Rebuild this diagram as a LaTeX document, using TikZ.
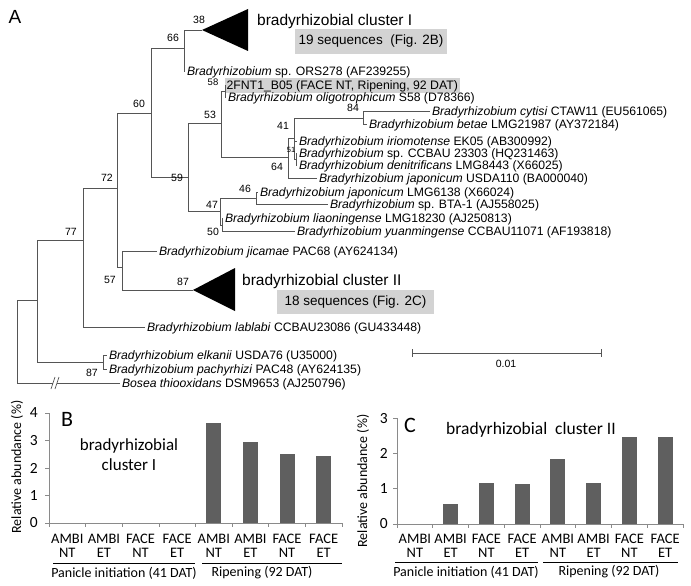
\documentclass[tikz,border=0pt]{standalone}
\usepackage{fontspec}
\setmainfont{Liberation Sans}
\newfontfamily\chartfont{Carlito}
\definecolor{treeline}{HTML}{555555}
\definecolor{boxgray}{HTML}{D3D3D3}
\definecolor{barcol}{HTML}{5F5F5F}
\definecolor{axiscol}{HTML}{8A8A8A}
\begin{document}
\begin{tikzpicture}[x=1pt,y=-1pt,
  br/.style={draw=treeline,line width=0.75pt},
  tx/.style={anchor=west,inner sep=0pt,outer xsep=2pt,outer ysep=0pt,font=\fontsize{12.2}{13}\selectfont,text height=8.8pt,text depth=0pt},
  bs/.style={inner sep=0pt,font=\fontsize{10.5}{10.5}\selectfont},
  cl/.style={anchor=west,inner sep=0pt,font=\fontsize{15.5}{16}\selectfont,text height=11pt,text depth=0pt},
  gbox/.style={fill=boxgray,inner sep=0pt,font=\fontsize{13.5}{14}\selectfont},
  ax/.style={draw=axiscol,line width=0.7pt},
  bar/.style={fill=barcol},
  cf/.style={font=\chartfont\fontsize{14.5}{14}\selectfont,inner sep=0pt,align=center},
  gl/.style={font=\chartfont\fontsize{14}{14}\selectfont,inner sep=0pt},
  tickl/.style={font=\chartfont\fontsize{15.5}{16}\selectfont,inner sep=0pt,anchor=east},
  ylab/.style={font=\chartfont\fontsize{14}{14}\selectfont,inner sep=0pt,rotate=90},
  grp/.style={draw=black,line width=0.8pt},
]
\useasboundingbox (0,0) rectangle (691,586);

% ---------------- panel A : tree ----------------
\node[font=\fontsize{19}{19}\selectfont,inner sep=0pt] (lA) at (15,17) {A};

% internal nodes
\coordinate (r) at (17,340);
\coordinate (n77) at (37,300);
\coordinate (n72) at (83,240);
\coordinate (n60) at (117,188);
\coordinate (nA) at (151,113);
\coordinate (n66) at (184,48);
\coordinate (n59) at (188,177);
\coordinate (n53) at (221,123);
\coordinate (n58) at (225,91);
\coordinate (n64) at (288,157);
\coordinate (n41) at (294,138);
\coordinate (n84) at (363,118);
\coordinate (n51) at (296,159);
\coordinate (n47) at (220,211);
\coordinate (n46) at (256,198);
\coordinate (n50) at (222,225);
\coordinate (n57) at (122,267);
\coordinate (n87) at (103,362);
\coordinate (c1) at (202,30);
\coordinate (c2) at (193,290);

% collapsed clusters
\fill[black] (c1) -- (248,9) -- (248,51) -- cycle;
\fill[black] (c2) -- (235,268) -- (235,311) -- cycle;
\node[cl] (cl1) at (257,20) {bradyrhizobial cluster I};
\node[gbox,minimum width=152pt,minimum height=25pt] (bx1) at (371,41.5) {19 sequences\ \ (Fig. 2B)};
\node[cl] (cl2) at (242,280) {bradyrhizobial cluster II};
\node[gbox,minimum width=157pt,minimum height=24pt] (bx2) at (355.5,302) {18 sequences (Fig. 2C)};

% leaves
\node[tx] (t-ors) at (185,71) {\textit{Bradyrhizobium} sp. ORS278 (AF239255)};
\node[tx,font=\fontsize{12.3}{13}\selectfont,fill=boxgray,inner xsep=1.5pt,inner ysep=3.5pt,outer xsep=0pt] (t-2f) at (225,85.5) {2FNT1\_B05 (FACE NT, Ripening, 92 DAT)};
\node[tx] (t-oli) at (226,97) {\textit{Bradyrhizobium oligotrophicum} S58 (D78366)};
\node[tx] (t-cyt) at (430,111) {\textit{Bradyrhizobium cytisi} CTAW11 (EU561065)};
\node[tx] (t-bet) at (367,124) {\textit{Bradyrhizobium betae} LMG21987 (AY372184)};
\node[tx] (t-iri) at (297,141) {\textit{Bradyrhizobium iriomotense} EK05 (AB300992)};
\node[tx] (t-ccb) at (297,153) {\textit{Bradyrhizobium} sp. CCBAU 23303 (HQ231463)};
\node[tx] (t-den) at (297,165) {\textit{Bradyrhizobium denitrificans} LMG8443 (X66025)};
\node[tx] (t-usda) at (317,178) {\textit{Bradyrhizobium japonicum} USDA110 (BA000040)};
\node[tx] (t-lmg) at (258,192) {\textit{Bradyrhizobium japonicum} LMG6138 (X66024)};
\node[tx] (t-bta) at (328,204) {\textit{Bradyrhizobium} sp. BTA-1 (AJ558025)};
\node[tx] (t-lia) at (223,218) {\textit{Bradyrhizobium liaoningense} LMG18230 (AJ250813)};
\node[tx] (t-yua) at (295,231) {\textit{Bradyrhizobium yuanmingense} CCBAU11071 (AF193818)};
\node[tx] (t-jic) at (157,251) {\textit{Bradyrhizobium jicamae} PAC68 (AY624134)};
\node[tx] (t-lab) at (145,327) {\textit{Bradyrhizobium lablabi} CCBAU23086 (GU433448)};
\node[tx] (t-elk) at (107,355) {\textit{Bradyrhizobium elkanii} USDA76 (U35000)};
\node[tx] (t-pac) at (107,369) {\textit{Bradyrhizobium pachyrhizi} PAC48 (AY624135)};
\node[tx] (t-bos) at (120,383) {\textit{Bosea thiooxidans} DSM9653 (AJ250796)};

% branches
\draw[br] (r) |- (n77);
\coordinate (brkA) at (53,383);
\coordinate (brkB) at (57,383);
\draw[br] (r) |- (brkA);
\draw[br] (brkB) -- (t-bos.west);
\draw[br] (51,389) -- (55,377);
\draw[br] (55,389) -- (59,377);
\draw[br] (n77) |- (n72);   \draw[br] (n77) |- (n87);
\draw[br] (n72) |- (n60);   \draw[br] (n72) |- (t-lab.west);
\draw[br] (n60) |- (nA);    \draw[br] (n60) |- (n57);
\draw[br] (nA) |- (n66);    \draw[br] (nA) |- (n59);
\draw[br] (n66) |- (c1);    \draw[br] (n66) |- (t-ors.west);
\draw[br] (n59) |- (n53);   \draw[br] (n59) |- (n47);
\draw[br] (n53) |- (n58);   \draw[br] (n53) |- (n64);
\draw[br] (n58) |- (t-2f.west); \draw[br] (n58) |- (t-oli.west);
\draw[br] (n64) |- (n41);   \draw[br] (n64) |- (t-usda.west);
\draw[br] (n41) |- (n84);   \draw[br] (n41) |- (t-iri.west); \draw[br] (n41) |- (n51);
\draw[br] (n84) |- (t-cyt.west); \draw[br] (n84) |- (t-bet.west);
\draw[br] (n51) |- (t-ccb.west); \draw[br] (n51) |- (t-den.west);
\draw[br] (n47) |- (n46);   \draw[br] (n47) |- (n50);
\draw[br] (n46) |- (t-lmg.west); \draw[br] (n46) |- (t-bta.west);
\draw[br] (n50) |- (t-lia.west); \draw[br] (n50) |- (t-yua.west);
\draw[br] (n57) |- (t-jic.west); \draw[br] (n57) |- (c2);
\draw[br] (n87) |- (t-elk.west); \draw[br] (n87) |- (t-pac.west);

% bootstrap values
\node[bs] (b38) at (199,20) {38};
\node[bs] (b66) at (173,38) {66};
\node[bs] (b60) at (139,104) {60};
\node[bs,font=\fontsize{9.5}{9.5}\selectfont] (b58) at (213,82) {58};
\node[bs] (b53) at (210,115) {53};
\node[bs] (b84) at (353,108) {84};
\node[bs] (b41) at (283,126) {41};
\node[bs,font=\fontsize{7.5}{7.5}\selectfont] (b51) at (291,150) {51};
\node[bs] (b64) at (277,167) {64};
\node[bs] (b72) at (107,178) {72};
\node[bs] (b59) at (177,178) {59};
\node[bs] (b46) at (245,189) {46};
\node[bs] (b47) at (212,205) {47};
\node[bs] (b50) at (213,232) {50};
\node[bs] (b77) at (71,232) {77};
\node[bs] (b57) at (110,280) {57};
\node[bs] (b87a) at (183,282) {87};
\node[bs] (b87b) at (92,373) {87};

% scale bar
\coordinate (sbL) at (412,353);
\coordinate (sbR) at (601,353);
\draw[draw=treeline,line width=0.8pt] (sbL) -- (sbR);
\draw[draw=treeline,line width=0.8pt] (412,349) -- (412,357);
\draw[draw=treeline,line width=0.8pt] (601,349) -- (601,357);
\node[bs] (sbt) at (506,364) {0.01};

% ---------------- panel B ----------------
\node[ylab] (b-yl) at (17,467) {Relative abundance (\%)};
\draw[ax] (49,413) -- (49,523) -- (342,523);
\foreach \v in {0,...,4} {
  \draw[ax] (45,{523-27.5*\v}) -- (49,{523-27.5*\v});
  \node[tickl] (b-t\v) at (38,{523-27.5*\v}) {\v};
}
\foreach \i in {0,...,8} { \draw[ax] ({49+36.625*\i},523) -- ({49+36.625*\i},527); }
\foreach \i/\v in {5/3.64,6/2.95,7/2.50,8/2.45} {
  \fill[bar] ({49+36.625*(\i-0.5)-7.5},523) rectangle ({49+36.625*(\i-0.5)+7.5},{523-27.5*\v});
}
\foreach \i/\a/\b in {1/AMBI/NT,2/AMBI/ET,3/FACE/NT,4/FACE/ET,5/AMBI/NT,6/AMBI/ET,7/FACE/NT,8/FACE/ET} {
  \node[cf] (b-c\i) at ({49+36.625*(\i-0.5)},546) {\a\\\b};
}
\coordinate (bg1a) at (53,563); \coordinate (bg1b) at (195,563);
\coordinate (bg2a) at (202,563); \coordinate (bg2b) at (342,563);
\draw[grp] (bg1a) -- (bg1b);
\draw[grp] (bg2a) -- (bg2b);
\node[gl] (b-g1) at (124,573) {Panicle initiation (41 DAT)};
\node[gl] (b-g2) at (262,573) {Ripening (92 DAT)};
\node[font=\chartfont\fontsize{22}{22}\selectfont,inner sep=0pt] (lB) at (67,419) {B};
\node[font=\chartfont\fontsize{17}{20}\selectfont,inner sep=0pt,align=center] (b-title) at (129,455) {bradyrhizobial\\cluster I};

% ---------------- panel C ----------------
\node[ylab] (c-yl) at (363,481) {Relative abundance (\%)};
\draw[ax] (397,418) -- (397,524) -- (683,524);
\foreach \v in {0,...,3} {
  \draw[ax] (393,{524-35.3*\v}) -- (397,{524-35.3*\v});
  \node[tickl] (c-t\v) at (388,{524-35.3*\v}) {\v};
}
\foreach \i in {0,...,8} { \draw[ax] ({397+35.75*\i},524) -- ({397+35.75*\i},528); }
\foreach \i/\v in {2/0.57,3/1.16,4/1.13,5/1.83,6/1.17,7/2.47,8/2.46} {
  \fill[bar] ({397+35.75*(\i-0.5)-7.5},524) rectangle ({397+35.75*(\i-0.5)+7.5},{524-35.3*\v});
}
\foreach \i/\a/\b in {1/AMBI/NT,2/AMBI/ET,3/FACE/NT,4/FACE/ET,5/AMBI/NT,6/AMBI/ET,7/FACE/NT,8/FACE/ET} {
  \node[cf] (c-c\i) at ({397+35.75*(\i-0.5)},546) {\a\\\b};
}
\coordinate (cg1a) at (395,562); \coordinate (cg1b) at (538,562);
\coordinate (cg2a) at (543,562); \coordinate (cg2b) at (678,562);
\draw[grp] (cg1a) -- (cg1b);
\draw[grp] (cg2a) -- (cg2b);
\node[gl] (c-g1) at (466,572) {Panicle initiation (41 DAT)};
\node[gl] (c-g2) at (609,572) {Ripening (92 DAT)};
\node[font=\chartfont\fontsize{22}{22}\selectfont,inner sep=0pt] (lC) at (410,425) {C};
\node[font=\chartfont\fontsize{17.5}{20}\selectfont,inner sep=0pt] (c-title) at (531,430) {bradyrhizobial\ \ cluster II};
\end{tikzpicture}
\end{document}
